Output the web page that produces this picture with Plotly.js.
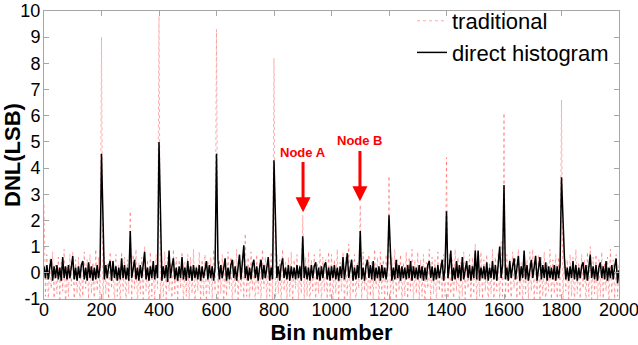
<!DOCTYPE html>
<html>
<head>
<meta charset="utf-8">
<script src="https://cdn.plot.ly/plotly-3.0.1.min.js"></script>
<style>html,body{margin:0;padding:0;background:#fff;}#chart{width:638px;height:345px;}</style>
</head>
<body>
<div id="chart"></div>
<script>
// DNL per bin, sampled every 5 bins from 0 to 2000
const binStep = 5;

const traditional = [
  2.6, -0.9, 0.7, -1.1, 0.5, -0.6, 0.8, -1.2, 0.3, -0.8, 0.6, -1.0, 0.4, -0.7, 0.9, -1.3, 0.2, -0.9, 0.7, -0.5,
  0.8, -1.1, 0.5, -0.8, 0.6, -1.2, 0.3, -0.9, 0.8, -0.6, 0.5, -1.0, 0.7, -0.8, 0.4, -1.3, 0.9, -0.7, 0.6, -1.1,
  9.0, -1.2, 0.6, -0.8, 0.4, -1.0, 0.8, -0.6, 0.5, -1.3, 0.7, -0.9, 0.3, -1.1, 0.8, -0.7, 0.6, -1.2, 0.5, -0.8,
  2.35, -1.1, 0.7, -0.6, 0.9, -1.3, 0.4, -0.8, 0.6, -1.0, 1.0, -0.7, 0.5, -1.2, 0.8, -0.9, 0.3, -1.1, 0.7, -0.6,
  9.8, -1.2, 0.5, -0.9, 0.8, -1.0, 0.6, -0.7, 0.4, -1.3, 0.9, -0.8, 0.6, -1.1, 0.5, -0.6, 0.8, -1.2, 0.4, -0.9,
  0.7, -1.0, 0.6, -0.8, 0.9, -1.3, 0.3, -0.7, 0.8, -1.1, 0.5, -0.9, 0.7, -1.2, 0.4, -0.8, 0.6, -1.0, 0.9, -0.7,
  9.3, -1.1, 0.5, -0.8, 0.7, -1.3, 0.4, -0.9, 0.8, -0.6, 0.6, -1.2, 0.5, -0.8, 0.9, -1.0, 0.3, -0.7, 0.7, -1.1,
  1.5, -0.9, 0.6, -1.2, 0.8, -0.7, 0.4, -1.3, 0.7, -0.8, 0.5, -1.1, 0.9, -0.6, 0.6, -1.0, 0.4, -0.9, 0.8, -1.2,
  8.2, -1.1, 0.7, -0.8, 0.5, -1.3, 0.9, -0.7, 0.4, -1.0, 0.6, -0.9, 0.8, -1.2, 0.5, -0.6, 0.7, -1.1, 0.3, -0.8,
  2.2, -1.0, 0.6, -0.9, 0.8, -1.3, 0.5, -0.7, 0.7, -1.1, 0.4, -0.8, 0.9, -1.2, 0.6, -0.7, 0.5, -1.0, 0.8, -0.9,
  0.7, -1.2, 0.5, -0.8, 0.9, -1.1, 0.4, -0.7, 0.8, -1.3, 0.6, -0.9, 1.1, -1.0, 0.5, -0.8, 0.7, -1.2, 0.4, -0.6,
  2.6, -1.1, 0.8, -0.7, 0.5, -1.3, 0.7, -0.9, 0.4, -1.0, 0.9, -0.6, 0.6, -1.2, 0.8, -0.8, 0.5, -1.1, 0.7, -0.9,
  3.7, -1.2, 0.6, -0.8, 0.9, -1.0, 0.5, -0.7, 0.7, -1.3, 0.4, -0.9, 0.8, -1.1, 0.6, -0.7, 0.9, -1.2, 0.5, -0.8,
  0.8, -1.0, 0.5, -0.9, 0.7, -1.3, 0.4, -0.6, 0.9, -1.1, 0.6, -0.8, 0.5, -1.2, 0.8, -0.7, 0.4, -1.0, 0.7, -0.9,
  4.4, -1.1, 0.7, -0.8, 0.5, -1.2, 0.9, -0.7, 0.6, -1.3, 0.4, -0.9, 0.8, -1.0, 0.5, -0.6, 0.7, -1.1, 0.6, -0.8,
  1.1, -1.2, 0.6, -0.9, 0.8, -1.0, 0.5, -0.7, 0.7, -1.3, 0.4, -0.8, 0.9, -1.1, 0.6, -0.7, 0.8, -1.2, 1.2, -0.9,
  6.1, -1.0, 0.7, -0.8, 0.5, -1.3, 0.8, -0.6, 0.6, -1.1, 0.9, -0.9, 0.4, -1.2, 0.7, -0.8, 0.5, -1.0, 0.8, -0.7,
  0.9, -1.1, 0.5, -0.8, 0.7, -1.2, 0.6, -0.9, 0.8, -1.3, 0.4, -0.7, 0.9, -1.0, 0.5, -0.8, 0.7, -1.1, 0.6, -0.9,
  6.6, -1.2, 0.8, -0.7, 0.5, -1.0, 0.7, -0.9, 0.6, -1.3, 0.9, -0.8, 0.4, -1.1, 0.7, -0.6, 0.5, -1.2, 0.8, -0.9,
  1.0, -1.0, 0.6, -0.8, 0.7, -1.3, 0.5, -0.9, 0.8, -1.1, 0.4, -0.7, 0.6, -1.2, 0.9, -0.8, 0.5, -1.0, 0.7, -0.9,
  0.3
];

const directHistogram = [
  0.25, -0.2, 0.3, -0.25, 0.2, 0.53, -0.3, 0.25, -0.2, 0.3, -0.25, 0.2, -0.3, 0.6, -0.2, 0.25, -0.25, 0.3, -0.2, 0.2,
  0.64, -0.25, 0.2, -0.3, 0.25, -0.2, 0.3, 0.45, -0.25, 0.2, -0.3, 0.4, -0.2, 0.25, -0.3, 0.2, -0.25, 0.3, -0.2, 0.25,
  4.55, 2.2, -0.25, 0.3, -0.2, 0.25, 0.45, -0.3, 0.45, -0.2, 0.25, -0.3, 0.2, -0.25, 0.55, -0.2, 0.3, -0.25, 0.2, -0.3,
  1.6, -0.2, 0.25, 0.5, -0.25, 0.2, -0.3, 0.3, -0.2, 0.25, 0.8, -0.25, 0.2, -0.3, 0.25, -0.2, 0.45, -0.25, 0.3, -0.2,
  5.0, 2.4, -0.3, 0.25, -0.2, 0.3, -0.35, 0.85, -0.2, 0.25, 0.55, -0.25, 0.2, -0.3, 0.25, -0.2, 0.6, -0.25, 0.2, -0.3,
  0.45, -0.2, 0.25, -0.3, 0.3, -0.2, 0.2, -0.25, 0.3, -0.3, 0.25, -0.2, 0.2, 0.45, -0.25, 0.3, -0.2, 0.25, -0.3, 0.2,
  4.55, 0.5, -0.25, 0.3, -0.2, 0.25, 0.55, -0.3, 0.2, -0.25, 0.3, 0.5, -0.2, 0.25, -0.3, 0.2, 0.7, -0.25, 0.3, 1.05,
  -0.2, 0.25, -0.3, 0.2, -0.25, 0.3, 0.5, -0.2, 0.25, -0.3, 0.2, 0.5, -0.25, 0.3, -0.2, 0.25, 0.6, -0.3, 0.2, -0.25,
  4.3, 2.1, -0.2, 0.25, -0.3, 0.3, 0.55, -0.2, 0.2, -0.25, 0.3, -0.3, 0.25, -0.2, 0.2, -0.25, 0.3, -0.2, 0.25, -0.3,
  1.4, -0.2, 0.25, -0.25, 0.2, -0.3, 0.3, -0.2, 0.25, 0.4, -0.25, 0.2, -0.3, 0.25, -0.2, 0.3, 0.4, -0.25, 0.2, -0.3,
  0.25, -0.2, 0.3, -0.25, 0.2, -0.3, 0.25, -0.2, 0.6, -0.25, 0.3, 0.75, -0.2, 0.25, 0.5, -0.3, 0.2, -0.25, 0.3, -0.2,
  1.6, -0.25, 0.2, -0.3, 0.25, 0.5, -0.2, 0.3, -0.25, 0.45, -0.3, 0.2, -0.2, 0.25, -0.3, 0.3, -0.2, 0.2, -0.25, 0.25,
  2.2, 0.8, -0.3, 0.2, -0.25, 0.5, -0.2, 0.3, -0.3, 0.25, -0.2, 0.2, -0.25, 0.3, -0.2, 0.45, -0.3, 0.25, -0.2, 0.2,
  -0.25, 0.3, -0.2, 0.25, -0.3, 0.2, -0.25, 0.3, 0.45, -0.2, 0.25, -0.3, 0.2, -0.25, 0.3, -0.2, 0.25, 0.5, -0.3, 0.2,
  2.35, -0.2, 0.25, 0.85, -0.3, 0.2, -0.25, 0.45, -0.2, 0.3, -0.3, 0.6, -0.25, 0.2, 0.45, -0.2, 0.3, -0.3, 0.25, -0.2,
  0.85, -0.25, 0.85, -0.3, 0.2, -0.2, 0.25, -0.25, 0.4, -0.3, 0.2, -0.2, 0.45, -0.25, 0.3, -0.3, 0.25, 1.0, -0.2, 0.3,
  3.35, -0.25, 0.2, -0.3, 0.45, -0.2, 0.25, 0.55, -0.25, 0.2, 0.65, -0.3, 0.25, -0.2, 0.85, -0.25, 0.3, -0.3, 0.2, 0.5,
  -0.2, 0.25, 0.65, -0.3, 0.2, 0.6, -0.25, 0.3, -0.2, 0.4, -0.3, 0.25, -0.2, 0.2, -0.25, 0.3, -0.3, 0.25, -0.2, 0.3,
  3.65, 1.75, 0.6, -0.25, 0.2, -0.3, 0.25, -0.2, 0.45, -0.25, 0.3, -0.3, 0.2, -0.2, 0.25, 0.4, -0.25, 0.3, -0.3, 0.2,
  0.7, -0.2, 0.25, -0.25, 0.3, -0.3, 0.2, 0.4, -0.2, 0.25, -0.25, 0.45, -0.3, 0.2, -0.2, 0.3, -0.25, 0.25, 0.55, -0.4,
  0.1
];

const xTicks = [0, 200, 400, 600, 800, 1000, 1200, 1400, 1600, 1800, 2000];
const yTicks = [-1, 0, 1, 2, 3, 4, 5, 6, 7, 8, 9, 10];
const seriesNames = ['traditional', 'direct histogram'];
const nodeLabels = ['Node A', 'Node B'];
const nodeBins = [901, 1099];

const bins = traditional.map((_, i) => i * binStep);

const FONT = 'Liberation Sans, Arial, Helvetica, sans-serif';
const frame = '#a6a6a6';

const traces = [
  {
    x: bins, y: traditional, name: seriesNames[0], type: 'scatter', mode: 'lines',
    line: { color: 'rgba(255,30,30,0.38)', width: 1, dash: 'dot' }
  },
  {
    x: bins, y: directHistogram, name: seriesNames[1], type: 'scatter', mode: 'lines',
    line: { color: '#000000', width: 1.5 }
  }
];

const arrowTails = [4.29, 4.71];
const arrowTips = [2.31, 2.73];
const labelY = [4.6, 5.05];

const annotations = [];
nodeLabels.forEach((t, k) => {
  annotations.push({
    x: nodeBins[k], y: labelY[k], xref: 'x', yref: 'y', text: '<b>' + t + '</b>',
    showarrow: false, font: { family: FONT, size: 13, color: '#ff0000' }
  });
  annotations.push({
    x: nodeBins[k], y: arrowTips[k], ax: nodeBins[k], ay: arrowTails[k],
    xref: 'x', yref: 'y', axref: 'x', ayref: 'y', text: '',
    showarrow: true, arrowhead: 2, arrowsize: 1, arrowwidth: 3, arrowcolor: '#ff0000', standoff: 0
  });
});

const layout = {
  width: 638, height: 345,
  margin: { l: 44, r: 19, t: 11, b: 46, autoexpand: false },
  paper_bgcolor: '#ffffff', plot_bgcolor: '#ffffff',
  font: { family: FONT, size: 18, color: '#000000' },
  showlegend: true,
  legend: {
    x: 0.64, y: 1.0, xanchor: 'left', yanchor: 'top', yref: 'container',
    bgcolor: 'rgba(255,255,255,0)', borderwidth: 0,
    font: { family: FONT, size: 22, color: '#000000' },
    tracegroupgap: 0
  },
  xaxis: {
    range: [0, 2000], tickvals: xTicks, ticktext: xTicks.map(String),
    ticks: 'inside', ticklen: 5, tickcolor: frame, tickwidth: 1,
    showline: true, linecolor: frame, linewidth: 1, mirror: 'ticks',
    showgrid: false, zeroline: false, ticklabeloverflow: 'allow', ticklabelstandoff: -6,
    tickfont: { family: FONT, size: 18, color: '#000000' },
    title: { text: '<b>Bin number</b>', font: { family: FONT, size: 22, color: '#000000' }, standoff: 0 },
    automargin: false
  },
  yaxis: {
    range: [-1, 10], tickvals: yTicks, ticktext: yTicks.map(String),
    ticks: 'inside', ticklen: 5, tickcolor: frame, tickwidth: 1,
    showline: true, linecolor: frame, linewidth: 1, mirror: 'ticks',
    showgrid: false, zeroline: false, ticklabelstandoff: -1,
    tickfont: { family: FONT, size: 18, color: '#000000' },
    title: { text: '<b>DNL(LSB)</b>', font: { family: FONT, size: 22, color: '#000000' }, standoff: 0 },
    automargin: false
  },
  annotations: annotations
};

Plotly.newPlot('chart', traces, layout, { displayModeBar: false, staticPlot: true });
</script>
</body>
</html>
